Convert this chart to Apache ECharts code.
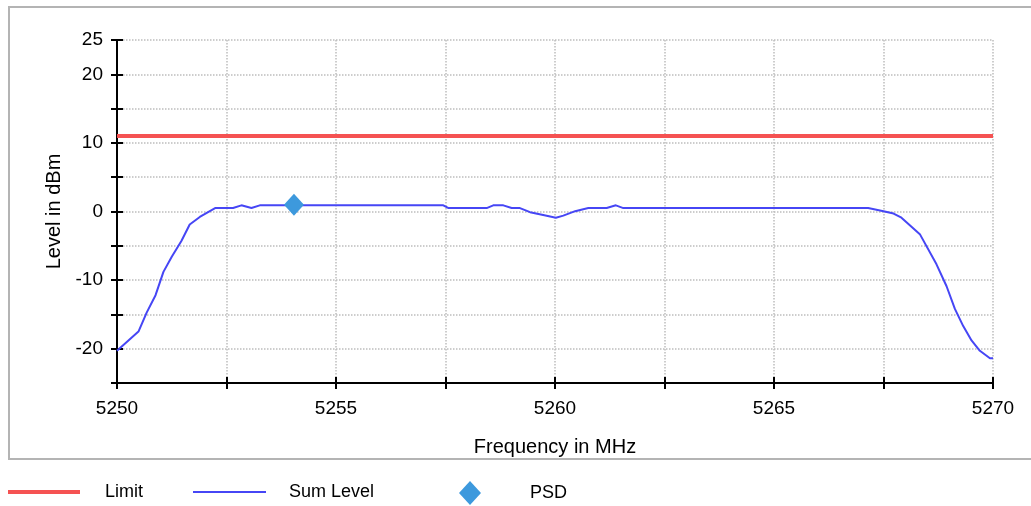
<!DOCTYPE html>
<html>
<head>
<meta charset="utf-8">
<script src="https://cdn.jsdelivr.net/npm/echarts@6/dist/echarts.min.js"></script>
<style>
html,body{margin:0;padding:0;background:#fff;}
#chart{width:1031px;height:506px;}
</style>
</head>
<body>
<div id="chart"></div>
<script>
// Data
var sumFreq = [5250, 5250.49, 5250.68, 5250.88, 5251.06, 5251.25, 5251.47, 5251.66, 5251.89, 5252.24,
  5252.65, 5252.84, 5253.07, 5253.26, 5257.45, 5257.57, 5258.44, 5258.59, 5258.82, 5259.01,
  5259.2, 5259.43, 5259.73, 5260.02, 5260.19, 5260.46, 5260.76, 5261.18, 5261.39, 5261.56,
  5267.15, 5267.5, 5267.73, 5267.91, 5268.33, 5268.71, 5268.94, 5269.13, 5269.32, 5269.51,
  5269.7, 5269.93, 5270];
var sumLevel = [-20.3, -17.5, -14.7, -12.2, -8.8, -6.6, -4.3, -1.9, -0.8, 0.5,
  0.5, 0.9, 0.5, 0.9, 0.9, 0.5, 0.5, 0.9, 0.9, 0.5,
  0.5, -0.1, -0.5, -0.9, -0.6, 0.05, 0.5, 0.5, 0.9, 0.5,
  0.5, 0.05, -0.3, -0.9, -3.3, -7.7, -10.9, -14.2, -16.7, -18.8,
  -20.3, -21.4, -21.4];
var limitFreq = [5250, 5270];
var limitLevel = [11, 11];
var psdFreq = [5254.04];
var psdLevel = [1.0];
var yTickLabels = [25, 20, 10, 0, -10, -20];
var xTickLabels = [5250, 5255, 5260, 5265, 5270];

function zip(a, b) { return a.map(function (v, i) { return [v, b[i]]; }); }

var FONT = "'Liberation Sans', Arial, sans-serif";
var chart = echarts.init(document.getElementById('chart'));
var gridDotted = { show: true, lineStyle: { color: '#bdbdbd', type: 'dotted', width: 1.5 } };

var option = {
  animation: false,
  backgroundColor: '#fff',
  textStyle: { fontFamily: FONT },
  graphic: [{
    type: 'rect', left: 8, top: 6, z: -10,
    shape: { width: 1040, height: 452 },
    style: { fill: '#fff', stroke: '#b4b4b4', lineWidth: 2 }
  }],
  grid: { left: 117, right: 38, top: 40, bottom: 123, containLabel: false },
  xAxis: [{
    type: 'value', min: 5250, max: 5270, interval: 2.5, position: 'bottom',
    name: 'Frequency in MHz', nameLocation: 'middle', nameGap: 54,
    nameTextStyle: { fontSize: 20, color: '#000', fontFamily: FONT },
    axisLine: { show: true, onZero: false, lineStyle: { color: '#000', width: 2 } },
    axisTick: { show: true, inside: true, length: 6, lineStyle: { color: '#000', width: 2 } },
    axisLabel: {
      fontSize: 19, color: '#000', margin: 16, fontFamily: FONT,
      formatter: function (v) { return xTickLabels.indexOf(v) >= 0 ? String(v) : ''; }
    },
    splitLine: gridDotted
  }, {
    type: 'value', min: 5250, max: 5270, interval: 2.5, position: 'bottom',
    axisLine: { show: false, onZero: false },
    axisTick: { show: true, inside: false, length: 6, lineStyle: { color: '#000', width: 2 } },
    axisLabel: { show: false }, splitLine: { show: false }
  }],
  yAxis: [{
    type: 'value', min: -25, max: 25, interval: 5, position: 'left',
    name: 'Level in dBm', nameLocation: 'middle', nameGap: 45, nameRotate: 90,
    nameTextStyle: { fontSize: 20, color: '#000', fontFamily: FONT },
    axisLine: { show: true, onZero: false, lineStyle: { color: '#000', width: 2 } },
    axisTick: { show: true, inside: true, length: 6, lineStyle: { color: '#000', width: 2 } },
    axisLabel: {
      fontSize: 19, color: '#000', margin: 14, fontFamily: FONT,
      formatter: function (v) { return yTickLabels.indexOf(v) >= 0 ? String(v) : ''; }
    },
    splitLine: gridDotted
  }, {
    type: 'value', min: -25, max: 25, interval: 5, position: 'left',
    axisLine: { show: false, onZero: false },
    axisTick: { show: true, inside: false, length: 6, lineStyle: { color: '#000', width: 2 } },
    axisLabel: { show: false }, splitLine: { show: false }
  }],
  legend: [{
    left: 8, top: 483, padding: 0, itemWidth: 72, itemHeight: 4,
    data: [{ name: 'Limit', icon: 'rect' }],
    textStyle: { fontSize: 18, color: '#000', fontFamily: FONT, padding: [0, 0, 0, 20] }
  }, {
    left: 193, top: 483, padding: 0, itemWidth: 73, itemHeight: 2,
    data: [{ name: 'Sum Level', icon: 'rect' }],
    textStyle: { fontSize: 18, color: '#000', fontFamily: FONT, padding: [0, 0, 0, 18] }
  }, {
    left: 459, top: 481, padding: 0, itemWidth: 22, itemHeight: 24,
    data: [{ name: 'PSD', icon: 'diamond' }],
    textStyle: { fontSize: 18, color: '#000', fontFamily: FONT, padding: [0, 0, 0, 44] }
  }],
  series: [{
    name: 'Limit', type: 'line', xAxisIndex: 0, yAxisIndex: 0,
    data: zip(limitFreq, limitLevel), symbol: 'none',
    color: '#f55252', lineStyle: { color: '#f55252', width: 4 }, z: 3
  }, {
    name: 'Sum Level', type: 'line', xAxisIndex: 0, yAxisIndex: 0,
    data: zip(sumFreq, sumLevel), symbol: 'none',
    color: '#4646f5', lineStyle: { color: '#4646f5', width: 2 }, z: 4
  }, {
    name: 'PSD', type: 'scatter', xAxisIndex: 0, yAxisIndex: 0,
    data: zip(psdFreq, psdLevel), symbol: 'diamond', symbolSize: [20, 22],
    color: '#3d99dd', itemStyle: { color: '#3d99dd', opacity: 1 }, z: 5
  }]
};
chart.setOption(option);
</script>
</body>
</html>
